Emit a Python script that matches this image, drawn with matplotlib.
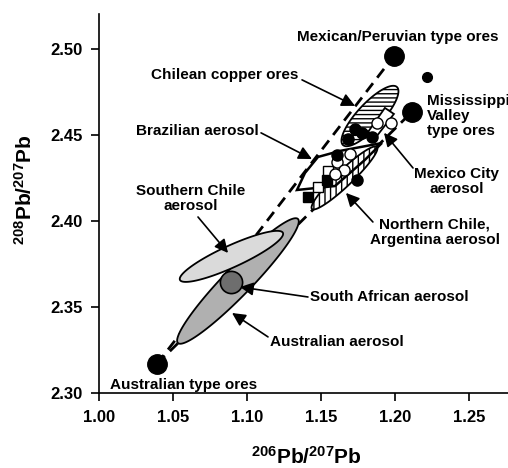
import numpy as np
import matplotlib
matplotlib.use("Agg")
import matplotlib.pyplot as plt
from matplotlib.patches import Polygon

plt.rcParams['font.family'] = ['Liberation Sans', 'DejaVu Sans']
plt.rcParams['font.weight'] = 'bold'
plt.rcParams['mathtext.fontset'] = 'custom'
plt.rcParams['mathtext.rm'] = 'Liberation Sans:bold'
plt.rcParams['mathtext.default'] = 'rm'
plt.rcParams['hatch.linewidth'] = 1.0

# end-member ores (206/207, 208/207)
ore_names = ["Australian type ores", "Mexican/Peruvian type ores", "Mississippi Valley type ores"]
ore_x = [1.0392, 1.1993, 1.2115]
ore_y = [2.3169, 2.4959, 2.4634]
extra_x = [1.2216]
extra_y = [2.4837]
safr_x = [1.0892]
safr_y = [2.3645]

# Mexico City samples
blk_circ_x = [1.1682, 1.1777, 1.1845, 1.1608, 1.1743, 1.1730]
blk_circ_y = [2.4477, 2.4512, 2.4488, 2.4384, 2.4238, 2.4535]
wht_circ_x = [1.1878, 1.1973, 1.1696, 1.1608, 1.1655, 1.1595]
wht_circ_y = [2.4570, 2.4570, 2.4390, 2.4343, 2.4297, 2.4273]
blk_sq_x = [1.1412, 1.1541]
blk_sq_y = [2.4140, 2.4238]
wht_sq_x = [1.1547, 1.1480]
wht_sq_y = [2.4291, 2.4198]

# fields: center, major half-axis, minor half-axis (data units)
chil_ores = [(1.1831, 2.4610), (0.01824, 0.01686), (0.00618, -0.00495)]
n_chile = [(1.1659, 2.4250), (0.02196, 0.01802), (0.00373, -0.00337)]
s_chile = [(1.0895, 2.3794), (0.0348, 0.01366), (0.0030, -0.00580)]
austr = [(1.0939, 2.3651), (0.04054, 0.03605), (0.0068, -0.00566)]

brazil_x = [1.1338, 1.1392, 1.1480, 1.1628, 1.1912, 1.1797, 1.1595]
brazil_y = [2.4180, 2.4279, 2.4372, 2.4407, 2.4453, 2.4355, 2.4203]
mexcity_x = [1.1932, 1.1993, 1.1878, 1.1818]
mexcity_y = [2.4657, 2.4622, 2.4494, 2.4517]


def ellipse_pts(field):
    (cx, cy), (ax_, ay_), (bx, by) = field
    t = np.linspace(0, 2 * np.pi, 200)
    return np.column_stack([cx + ax_ * np.cos(t) + bx * np.sin(t),
                            cy + ay_ * np.cos(t) + by * np.sin(t)])


fig = plt.figure(figsize=(5.08, 4.68), dpi=100)
ax = fig.add_axes([0.1949, 0.1603, 0.8051, 0.8098])
ax.set_xlim(1.0, 1.2764)
ax.set_ylim(2.30, 2.5203)

# mixing lines
ax.plot([ore_x[0], ore_x[1]], [ore_y[0], ore_y[1]], color='black', lw=2,
        dashes=(4, 2.5), zorder=1)
ax.plot([ore_x[0], ore_x[2]], [ore_y[0], ore_y[2]], color='black', lw=2,
        dashes=(4, 2.5), zorder=1)

ax.add_patch(Polygon(ellipse_pts(austr), closed=True, facecolor='#b0b0b0',
                     edgecolor='black', lw=1.3, zorder=2))
ax.add_patch(Polygon(ellipse_pts(s_chile), closed=True, facecolor='#dadada',
                     edgecolor='black', lw=1.3, zorder=3))
ax.add_patch(Polygon(ellipse_pts(chil_ores), closed=True, facecolor='white',
                     edgecolor='black', hatch='----', lw=1.3, zorder=2))
ax.add_patch(Polygon(ellipse_pts(n_chile), closed=True, facecolor='white',
                     edgecolor='black', hatch='|||', lw=1.3, zorder=2))
ax.add_patch(Polygon(np.column_stack([brazil_x, brazil_y]), closed=True,
                     fill=False, edgecolor='black', lw=1.8, zorder=4))
ax.add_patch(Polygon(np.column_stack([mexcity_x, mexcity_y]), closed=True,
                     facecolor='white', edgecolor='black', lw=1.3, zorder=3))

ax.plot(wht_sq_x, wht_sq_y, 's', ms=7, mfc='white', mec='black', mew=1, zorder=5)
ax.plot(blk_sq_x, blk_sq_y, 's', ms=7, mfc='black', mec='black', zorder=5)
ax.plot(wht_circ_x, wht_circ_y, 'o', ms=8, mfc='white', mec='black', mew=1, zorder=5)
ax.plot(blk_circ_x, blk_circ_y, 'o', ms=8, mfc='black', mec='black', zorder=6)

ax.plot(ore_x, ore_y, 'o', ms=14, color='black', zorder=6)
ax.plot(extra_x, extra_y, 'o', ms=7, color='black', zorder=6)
ax.plot(safr_x, safr_y, 'o', ms=16, mfc='#6e6e6e', mec='black', mew=1.2, zorder=6)

fs = 11
labels = [
    ("Mexican/Peruvian type ores", 1.2020, 2.5070, 'center'),
    ("Chilean copper ores", 1.0851, 2.4849, 'center'),
    ("Mississippi\nValley\ntype ores", 1.2216, 2.4610, 'left'),
    ("Brazilian aerosol", 1.1081, 2.4523, 'right'),
    ("Mexico City\naerosol", 1.2419, 2.4230, 'center'),
    ("Northern Chile,\nArgentina aerosol", 1.2270, 2.3936, 'center'),
    ("Southern Chile\naerosol", 1.0622, 2.4128, 'center'),
    ("South African aerosol", 1.1426, 2.3558, 'left'),
    ("Australian aerosol", 1.1155, 2.3297, 'left'),
    ("Australian type ores", 1.0074, 2.3047, 'left'),
]
for txt, tx, ty, ha in labels:
    ax.text(tx, ty, txt, ha=ha, va='center', fontsize=fs, fontweight='bold',
            linespacing=1.1,
            multialignment='center' if ha == 'center' else 'left', zorder=7)

arrows = [
    ((1.1372, 2.4820), (1.1730, 2.4669)),
    ((1.1095, 2.4512), (1.1439, 2.4360)),
    ((1.2122, 2.4308), (1.1926, 2.4512)),
    ((1.1851, 2.3994), (1.1669, 2.4163)),
    ((1.0669, 2.4023), (1.0872, 2.3814)),
    ((1.1412, 2.3558), (1.0953, 2.3616)),
    ((1.1142, 2.3326), (1.0899, 2.3465)),
]
for start, tip in arrows:
    ax.annotate('', xy=tip, xytext=start,
                arrowprops=dict(arrowstyle='-|>', color='black', lw=1.2,
                                mutation_scale=20, shrinkA=0, shrinkB=0),
                zorder=7)

ax.set_xticks([1.00, 1.05, 1.10, 1.15, 1.20, 1.25])
ax.set_yticks([2.30, 2.35, 2.40, 2.45, 2.50])
ax.xaxis.set_major_formatter(matplotlib.ticker.FormatStrFormatter('%.2f'))
ax.yaxis.set_major_formatter(matplotlib.ticker.FormatStrFormatter('%.2f'))
ax.tick_params(direction='out', length=6, width=1.2, labelsize=12, pad=6)
for lab in ax.get_xticklabels() + ax.get_yticklabels():
    lab.set_fontweight('bold')
ax.spines['top'].set_visible(False)
ax.spines['right'].set_visible(False)
for s in ['left', 'bottom']:
    ax.spines[s].set_linewidth(1.2)

fig.text(306 / 508, 1 - 457 / 468, r'$^{206}\mathrm{Pb}/^{207}\mathrm{Pb}$',
         fontsize=15, ha='center', va='center')
fig.text(25 / 508, 1 - 190 / 468, r'$^{208}\mathrm{Pb}/^{207}\mathrm{Pb}$',
         fontsize=15, ha='center', va='center', rotation=90)

fig.savefig('out.png', dpi=100)
